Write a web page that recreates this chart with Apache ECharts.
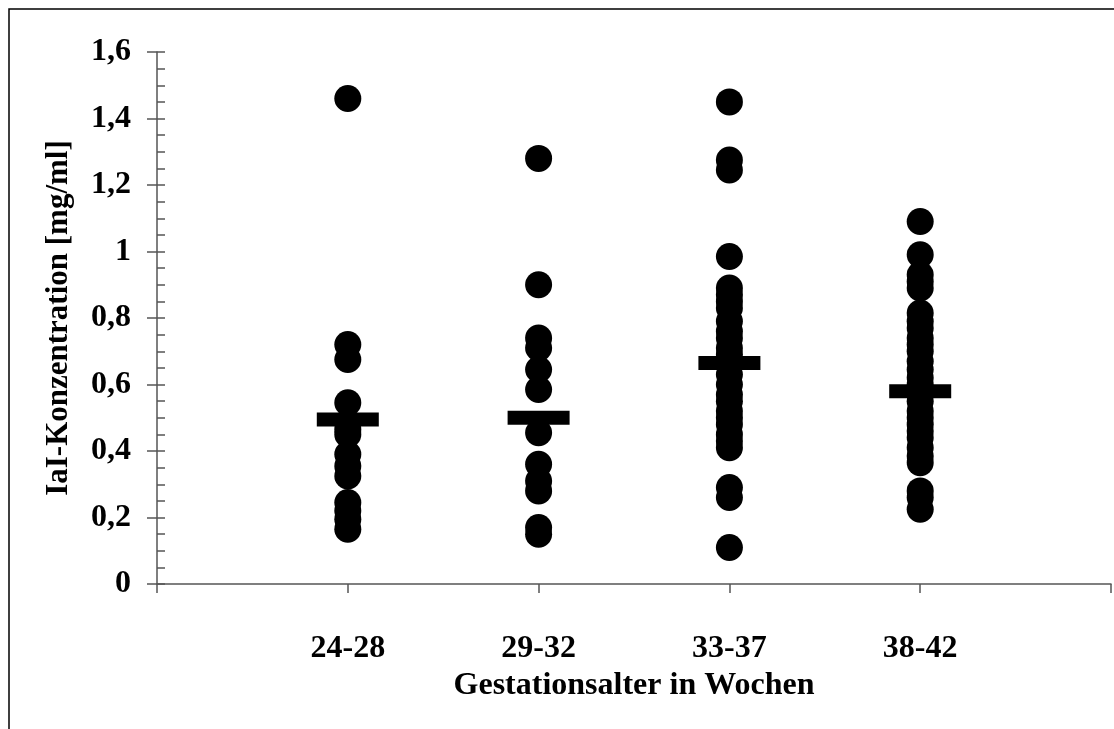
<!DOCTYPE html>
<html>
<head>
<meta charset="utf-8">
<script src="https://cdn.jsdelivr.net/npm/echarts@6/dist/echarts.min.js"></script>
<style>
html,body{margin:0;padding:0;background:#fff;}
#chart{width:1114px;height:729px;}
</style>
</head>
<body>
<div id="chart"></div>
<script>
var categories = ['24-28', '29-32', '33-37', '38-42'];
var group1 = [1.46, 0.72, 0.675, 0.545, 0.465, 0.45, 0.39, 0.355, 0.325, 0.245, 0.22, 0.195, 0.165];
var group2 = [1.28, 0.90, 0.74, 0.71, 0.645, 0.585, 0.455, 0.36, 0.31, 0.28, 0.17, 0.15];
var group3 = [1.45, 1.275, 1.245, 0.985, 0.89, 0.87, 0.85, 0.83, 0.79, 0.76, 0.74, 0.71, 0.69, 0.66, 0.63, 0.60, 0.57, 0.55, 0.52, 0.50, 0.48, 0.45, 0.43, 0.41, 0.29, 0.26, 0.11];
var group4 = [1.09, 0.99, 0.93, 0.91, 0.89, 0.815, 0.79, 0.77, 0.74, 0.72, 0.70, 0.67, 0.645, 0.62, 0.60, 0.575, 0.55, 0.52, 0.50, 0.48, 0.46, 0.44, 0.41, 0.385, 0.365, 0.28, 0.26, 0.225];
var means = [0.495, 0.50, 0.665, 0.58];
var yTicks = [0, 0.2, 0.4, 0.6, 0.8, 1, 1.2, 1.4, 1.6];

var groups = [group1, group2, group3, group4];
var pointData = [];
groups.forEach(function (g, i) {
  g.forEach(function (v) { pointData.push([i + 1, v]); });
});
var meanData = means.map(function (v, i) { return [i + 1, v]; });

var FONT = 'Liberation Serif';
var AXC = '#555';

var chart = echarts.init(document.getElementById('chart'), null, {renderer: 'canvas'});
chart.setOption({
  animation: false,
  backgroundColor: '#fff',
  graphic: [{
    type: 'rect', z: -1,
    shape: {x: 9, y: 9, width: 1300, height: 900},
    style: {fill: 'none', stroke: '#000', lineWidth: 1.5}
  }],
  grid: {left: 157, right: 2, top: 52, bottom: 145, containLabel: false},
  xAxis: {
    type: 'value', min: 0, max: 5, interval: 1,
    axisLine: {show: true, onZero: false, lineStyle: {color: AXC, width: 1.5}},
    axisTick: {show: true, inside: false, length: 9, lineStyle: {color: AXC, width: 1.5}},
    splitLine: {show: false},
    axisLabel: {
      margin: 49, fontFamily: FONT, fontWeight: 'bold', fontSize: 32, color: '#000',
      showMinLabel: true, showMaxLabel: true,
      formatter: function (v) { var i = Math.round(v) - 1; return categories[i] || ''; }
    },
    name: 'Gestationsalter in Wochen', nameLocation: 'middle', nameGap: 86,
    nameTextStyle: {fontFamily: FONT, fontWeight: 'bold', fontSize: 32, color: '#000'}
  },
  yAxis: [{
    type: 'value', min: 0, max: 1.6, interval: 0.2, position: 'left',
    axisLine: {show: true, lineStyle: {color: AXC, width: 1.5}},
    axisTick: {show: true, inside: true, length: 8, lineStyle: {color: AXC, width: 1.5}},
    minorTick: {show: true, splitNumber: 4, length: 8, lineStyle: {color: AXC, width: 1.5}},
    splitLine: {show: false},
    minorSplitLine: {show: false},
    axisLabel: {
      margin: 26, fontFamily: FONT, fontWeight: 'bold', fontSize: 32, color: '#000',
      formatter: function (v) {
        var r = Math.round(v * 10) / 10;
        return yTicks.indexOf(r) >= 0 ? String(r).replace('.', ',') : '';
      }
    },
    name: 'IaI-Konzentration [mg/ml]', nameLocation: 'middle', nameGap: 83,
    nameTextStyle: {fontFamily: FONT, fontWeight: 'bold', fontSize: 31, color: '#000'}
  }, {
    type: 'value', min: 0, max: 1.6, interval: 0.2, position: 'left',
    axisLine: {show: false},
    axisTick: {show: true, inside: false, length: 10, lineStyle: {color: AXC, width: 1.5}},
    splitLine: {show: false},
    axisLabel: {show: false}
  }],
  series: [{
    type: 'scatter', data: pointData, symbol: 'circle', symbolSize: 27,
    itemStyle: {color: '#000', opacity: 1}, z: 3, silent: true
  }, {
    type: 'scatter', data: meanData, symbol: 'rect', symbolSize: [62, 14],
    itemStyle: {color: '#000', opacity: 1}, z: 4, silent: true
  }]
});
</script>
</body>
</html>
